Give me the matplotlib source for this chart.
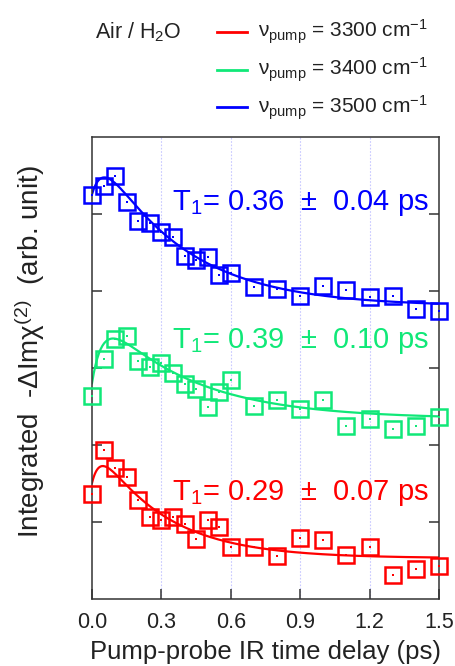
import numpy as np
import matplotlib
matplotlib.use("Agg")
import matplotlib.pyplot as plt
from matplotlib.lines import Line2D

plt.rcParams['font.family'] = ['Liberation Sans', 'DejaVu Sans']
plt.rcParams['mathtext.fontset'] = 'custom'
plt.rcParams['mathtext.rm'] = 'Liberation Sans'
plt.rcParams['mathtext.it'] = 'Liberation Sans:italic'
plt.rcParams['mathtext.default'] = 'regular'

# pump-probe delays (ps)
delay = [0.0, 0.05, 0.10, 0.15, 0.20, 0.25, 0.30, 0.35, 0.40, 0.45, 0.50,
         0.55, 0.60, 0.70, 0.80, 0.90, 1.00, 1.10, 1.20, 1.30, 1.40, 1.50]

# integrated signal, vertically offset per pump frequency
sig_3300 = [1.36, 1.94, 1.70, 1.58, 1.28, 1.07, 1.02, 1.07, 0.98, 0.78, 1.02,
            0.94, 0.68, 0.68, 0.56, 0.79, 0.76, 0.57, 0.67, 0.31, 0.39, 0.43]
sig_3400 = [2.63, 3.12, 3.38, 3.42, 3.09, 3.01, 3.06, 2.93, 2.79, 2.73, 2.50,
            2.69, 2.84, 2.51, 2.58, 2.47, 2.58, 2.25, 2.34, 2.21, 2.25, 2.37]
sig_3500 = [5.25, 5.36, 5.49, 5.16, 4.91, 4.88, 4.77, 4.70, 4.45, 4.40, 4.44,
            4.21, 4.23, 4.05, 4.02, 3.93, 4.06, 4.01, 3.92, 3.93, 3.77, 3.74]

# fitted lifetimes T1 and errors (ps)
T1 = [0.29, 0.39, 0.36]
T1_err = [0.07, 0.10, 0.04]
# fit offsets, amplitudes, rise fractions and rise times
fit_c = [0.53, 2.34, 3.80]
fit_a = [1.60, 1.49, 2.24]
fit_k = [0.39, 0.69, 0.35]
fit_tr = [0.040, 0.051, 0.055]

pump = ['3300', '3400', '3500']
colors = ['#ff0000', '#10e878', '#0000ff']
series = [sig_3300, sig_3400, sig_3500]
label_y = [1.29, 3.26, 5.05]

fig = plt.figure(figsize=(4.56, 6.66), dpi=100)
ax = fig.add_axes([92/456, 1 - 599/666, (439 - 92)/456, (599 - 137)/666])

# vertical guide lines
for gx in [0.3, 0.6, 0.9, 1.2]:
    ax.axvline(gx, color='#c8c8ff', lw=0.8, ls=(0, (1.5, 1.5)), zorder=0)

tfit = np.linspace(0, 1.5, 400)
for i in range(3):
    yfit = fit_c[i] + fit_a[i] * np.exp(-tfit / T1[i]) * (1 - fit_k[i] * np.exp(-tfit / fit_tr[i]))
    ax.plot(tfit, yfit, color=colors[i], lw=1.6, zorder=2)
    ax.plot(delay, series[i], ls='none', marker='s', ms=11.5, mfc='none',
            mec=colors[i], mew=1.8, zorder=3, clip_on=False)
    ax.plot(delay, series[i], ls='none', marker='s', ms=2.0, mfc=colors[i],
            mec=colors[i], mew=0, zorder=4, clip_on=False)
    ax.text(0.345, label_y[i], f'T$_1$= {T1[i]:.2f}  ±  {T1_err[i]:.2f} ps',
            color=colors[i], fontsize=21, ha='left', va='baseline', zorder=5)

ax.set_xlim(0, 1.5)
ax.set_ylim(0, 6)
ax.set_xticks([0.0, 0.3, 0.6, 0.9, 1.2, 1.5])
ax.set_xticklabels(['0.0', '0.3', '0.6', '0.9', '1.2', '1.5'])
ax.set_yticks([1, 2, 3, 4, 5])
ax.tick_params(axis='x', direction='in', length=7, width=1.1, color='#333333',
               labelsize=15.5, pad=9, labelcolor='#222222')
ax.tick_params(axis='y', direction='in', length=7, width=1.1, color='#333333',
               left=True, right=True, labelleft=False)
for s in ax.spines.values():
    s.set_color('#333333')
    s.set_linewidth(1.1)

fig.text(266/456, 1 - 659/666, 'Pump-probe IR time delay (ps)', fontsize=18.5,
         ha='center', va='baseline', color='#222222')
fig.text(30/456, 1 - 352/666, 'Integrated  -ΔImχ$^{(2)}$  (arb. unit)', fontsize=20,
         ha='center', va='center', rotation=90, color='#222222')

# legend block
fig.text(95/456, 1 - 38/666, 'Air / H$_2$O', fontsize=15.5, ha='left', va='baseline',
         color='#222222')
rows = [32, 70, 107]
for i in range(3):
    yy = 1 - rows[i]/666
    fig.add_artist(Line2D([217/456, 247/456], [yy, yy], color=colors[i], lw=2,
                          transform=fig.transFigure))
    fig.text(258/456, 1 - (rows[i] + 6)/666,
             'ν$_{pump}$ = ' + pump[i] + ' cm$^{-1}$', fontsize=15,
             ha='left', va='baseline', color='#222222')

fig.savefig('out.png', dpi=100)
